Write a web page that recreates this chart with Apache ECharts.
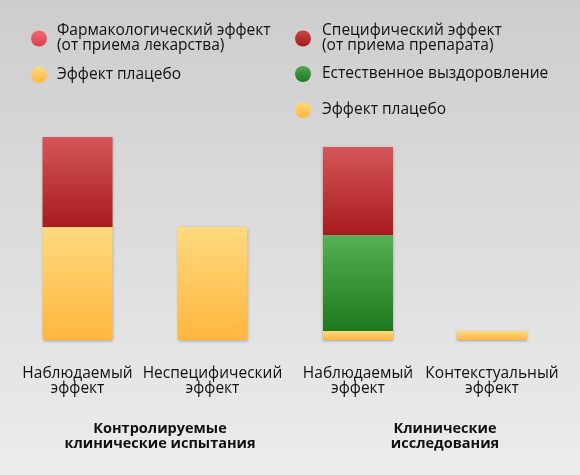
<!DOCTYPE html>
<html>
<head>
    <meta charset="utf-8" />
    <title>Эффект плацебо</title>
    <style>
        html, body { margin: 0; padding: 0; }
        #chart { width: 580px; height: 475px; }
    </style>
</head>
<body>
    <div id="chart"></div>

    <script src="https://cdn.jsdelivr.net/npm/echarts@6/dist/echarts.min.js"></script>
    <script type="text/javascript">

        // --- data ---
        var trialCats = ['Наблюдаемый\nэффект', 'Неспецифический\nэффект'];
        var studyCats = ['Наблюдаемый\nэффект', 'Контекстуальный\nэффект'];

        var trialPlacebo = [113, 113];
        var trialPharma = [90, '-'];

        var studyPlacebo = [9, 9];
        var studyNatural = [96, '-'];
        var studySpecific = [88, '-'];

        var groupNames = ['Контролируемые\nклинические испытания', 'Клинические\nисследования'];

        var nPharma = 'Фармакологический эффект\n(от приема лекарства)';
        var nSpecific = 'Специфический эффект\n(от приема препарата)';
        var nNatural = 'Естественное выздоровление';
        var nPlacebo = 'Эффект плацебо';

        var FONT = 'Open Sans';

        function grad(top, bottom) {
            return new echarts.graphic.LinearGradient(0, 0, 0, 1, [
                { offset: 0, color: top },
                { offset: 1, color: bottom }
            ]);
        }
        var redFill = grad('#d45658', '#a81b1d');
        var yellowFill = grad('#ffd97e', '#ffb63e');
        var greenFill = grad('#56b056', '#1d791d');

        function dot(top, bottom) {
            return { color: grad(top, bottom) };
        }

        var chart = echarts.init(document.getElementById('chart'));

        var labelStyle = {
            fontFamily: FONT,
            fontSize: 15.5,
            color: '#111',
            lineHeight: 15,
            margin: 26,
            interval: 0
        };

        function xAxis(idx, cats) {
            return {
                type: 'category',
                gridIndex: idx,
                data: cats,
                axisLine: { show: false },
                axisTick: { show: false },
                axisLabel: labelStyle
            };
        }
        function yAxis(idx) {
            return {
                type: 'value',
                gridIndex: idx,
                min: 0,
                max: 220,
                show: false,
                splitLine: { show: false }
            };
        }

        function bar(name, idx, data, fill, z) {
            return {
                name: name,
                type: 'bar',
                xAxisIndex: idx,
                yAxisIndex: idx,
                stack: 'g' + idx,
                barWidth: 70,
                z: z,
                data: data,
                itemStyle: {
                    color: fill,
                    shadowBlur: 3,
                    shadowOffsetY: 1,
                    shadowColor: 'rgba(0,0,0,0.3)'
                }
            };
        }

        function legendItem(left, top, name, style, pad) {
            return {
                left: left,
                top: top,
                padding: 0,
                orient: 'vertical',
                icon: 'circle',
                itemWidth: 16,
                itemHeight: 16,
                itemGap: 0,
                selectedMode: false,
                textStyle: {
                    fontFamily: FONT, fontSize: 15.5, color: '#111', lineHeight: 15,
                    padding: [0, 0, 0, pad]
                },
                data: [{ name: name, itemStyle: style }]
            };
        }

        function groupLabel(x, text) {
            return {
                type: 'text', x: x, y: 421,
                style: {
                    text: text, align: 'center', verticalAlign: 'top',
                    font: 'bold 14.5px "' + FONT + '"', fill: '#111', lineHeight: 15
                }
            };
        }

        var option = {
            backgroundColor: grad('#cdcdcd', '#ececec'),
            animation: false,
            legend: [
                legendItem(31, 23, nPharma, dot('#f06a74', '#d9404b'), 5),
                legendItem(31, 67, nPlacebo, dot('#ffd97e', '#ffb63e'), 5),
                legendItem(295, 23, nSpecific, dot('#c84343', '#a31c1c'), 6),
                legendItem(295, 66, nNatural, dot('#4ea84e', '#1d791d'), 6),
                legendItem(295, 102, nPlacebo, dot('#ffd97e', '#ffb63e'), 6)
            ],
            grid: [
                { left: 10, width: 270, top: 120, bottom: 135 },
                { left: 291, width: 268, top: 120, bottom: 135 }
            ],
            xAxis: [xAxis(0, trialCats), xAxis(1, studyCats)],
            yAxis: [yAxis(0), yAxis(1)],
            series: [
                bar(nPlacebo, 0, trialPlacebo, yellowFill, 4),
                bar(nPharma, 0, trialPharma, redFill, 2),
                bar(nPlacebo, 1, studyPlacebo, yellowFill, 4),
                bar(nNatural, 1, studyNatural, greenFill, 3),
                bar(nSpecific, 1, studySpecific, redFill, 2)
            ],
            graphic: [
                groupLabel(160, groupNames[0]),
                groupLabel(445, groupNames[1])
            ]
        };

        chart.setOption(option);
    </script>
</body>
</html>
